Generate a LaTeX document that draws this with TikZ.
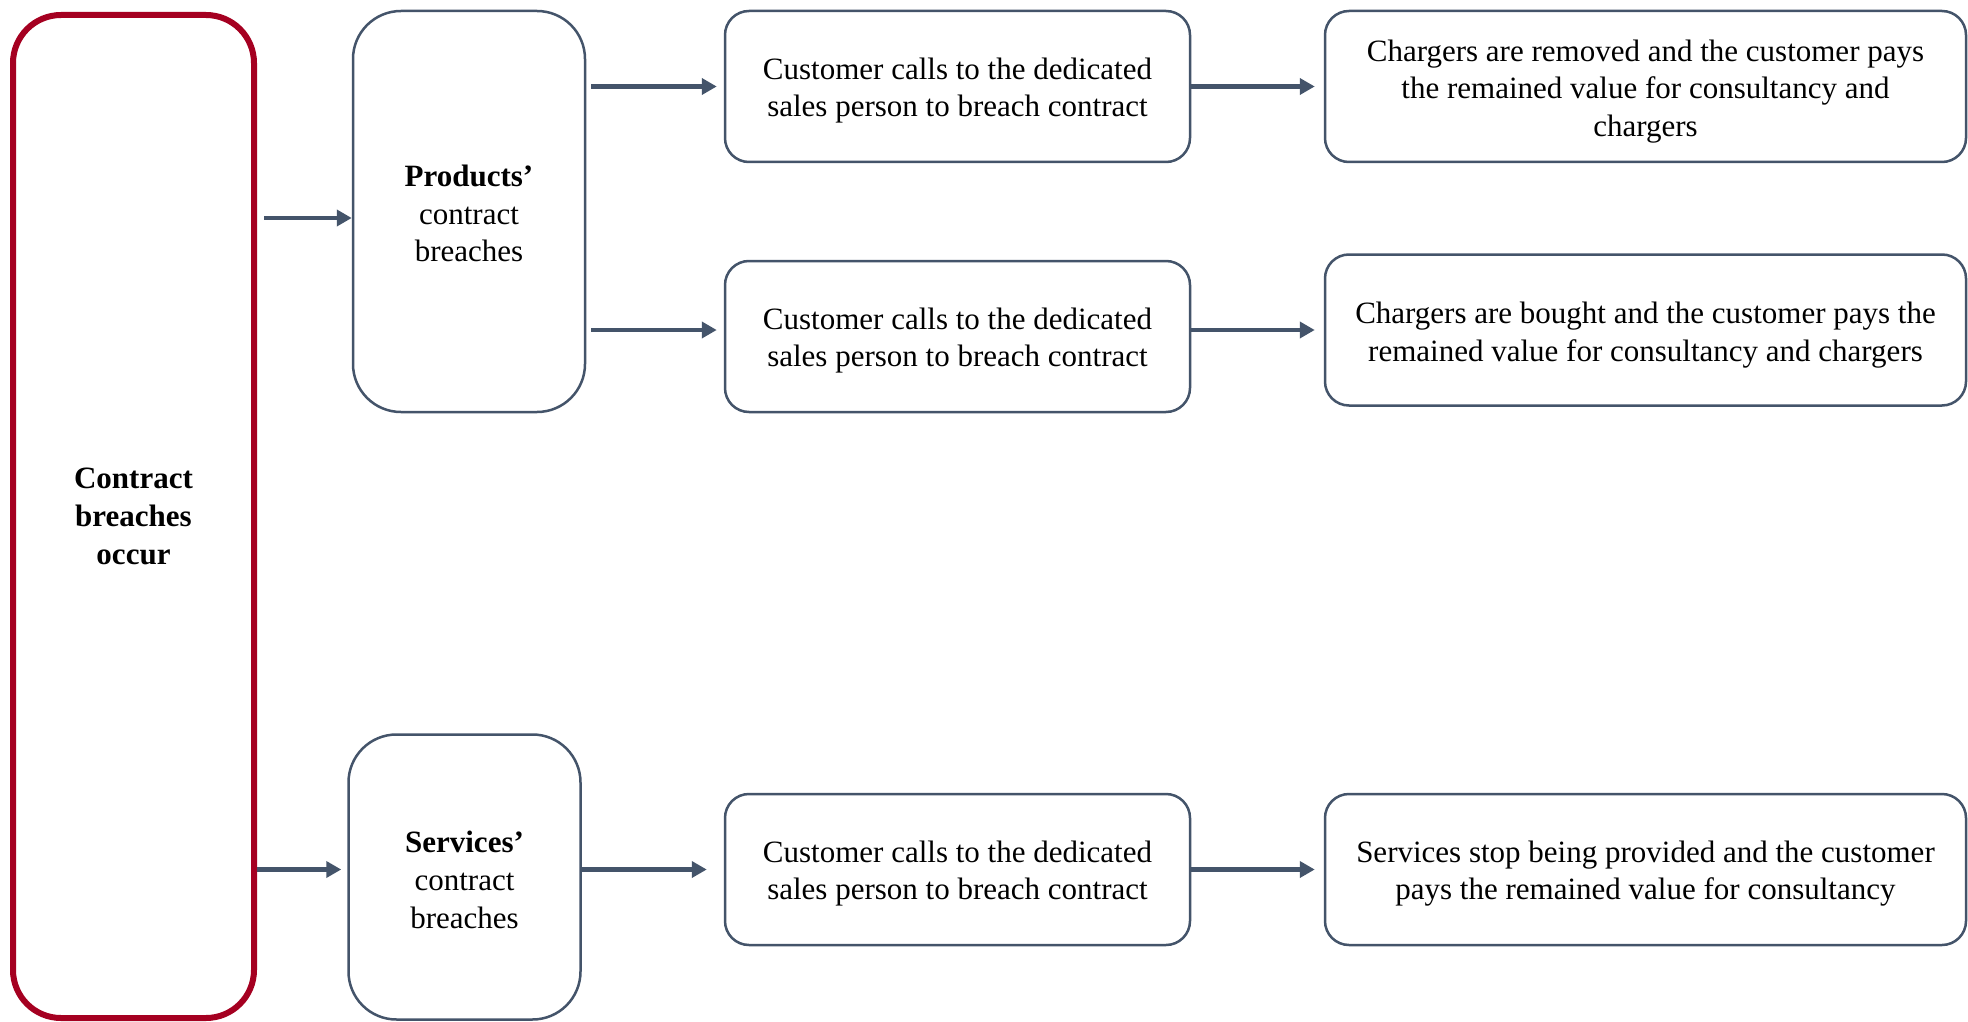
\documentclass[tikz,border=0pt]{standalone}
\usepackage{fontspec}
\setmainfont{Liberation Serif}
\usetikzlibrary{arrows.meta}
\definecolor{slate}{HTML}{44546A}
\definecolor{dred}{HTML}{A50021}
\begin{document}
\begin{tikzpicture}[x=1pt,y=-1pt,
  txt/.style={align=center, inner sep=0pt, font=\fontsize{31}{37.7}\selectfont},
  box/.style={draw=slate, line width=2.5pt, rounded corners=24pt, inner sep=0pt},
  tall/.style={box, rounded corners=48pt, minimum width=232pt},
  wide/.style={box, minimum height=151pt},
  arr/.style={draw=slate, line width=4.2pt, -{Triangle[length=15pt,width=16pt]}}]
\useasboundingbox (0,0) rectangle (1968,1022);
\fill[white] (0,0) rectangle (1968,1022);

\node[txt, draw=dred, line width=6pt, rounded corners=48pt, minimum width=241pt, minimum height=1003pt] (red) at (133.5,516.5)
  {\bfseries Contract\\\bfseries breaches\\\bfseries occur};

\node[tall, minimum height=401pt] (prod) at (469,211.5) {};
\node[txt, yshift=-2pt] (prodt) at (prod) {\bfseries Products’\\contract\\breaches};
\node[tall, minimum height=285pt] (serv) at (464.5,877) {};
\node[txt, yshift=-3pt] (servt) at (serv) {\bfseries Services’\\contract\\breaches};

\node[wide, minimum width=465pt] (c1) at (957.5,86.5) {};
\node[txt, yshift=-4pt] (c1t) at (c1) {Customer calls to the dedicated\\sales person to breach contract};
\node[wide, minimum width=465pt] (c2) at (957.5,336.5) {};
\node[txt, yshift=-4pt] (c2t) at (c2) {Customer calls to the dedicated\\sales person to breach contract};
\node[wide, minimum width=465pt] (c3) at (957.5,869.5) {};
\node[txt, yshift=-4pt] (c3t) at (c3) {Customer calls to the dedicated\\sales person to breach contract};

\node[wide, minimum width=641pt] (r1) at (1645.5,86.5) {};
\node[txt, yshift=-5pt] (r1t) at (r1) {Chargers are removed and the customer pays\\the remained value for consultancy and\\chargers};
\node[wide, minimum width=641pt] (r2) at (1645.5,330) {};
\node[txt, yshift=-5pt] (r2t) at (r2) {Chargers are bought  and the customer pays the\\remained value for consultancy and chargers};
\node[wide, minimum width=641pt] (r3) at (1645.5,869.5) {};
\node[txt, yshift=-4pt] (r3t) at (r3) {Services stop being provided and the customer\\pays the remained value for consultancy};

\coordinate (a0) at (0,218);
\draw[arr, shorten <=7pt] (red.east |- a0) -- (prod.west |- a0);
\draw[arr, shorten >=6pt] (red.east |- c3) -- (serv.west |- c3);
\draw[arr, shorten <=5pt, shorten >=7pt] (prod.east |- c1) -- (c1);
\draw[arr, shorten <=5pt, shorten >=7pt] (prod.east |- r2) -- (c2.west |- r2);
\draw[arr, shorten >=17pt] (serv.east |- c3) -- (c3);
\draw[arr, shorten >=9pt] (c1) -- (r1);
\draw[arr, shorten >=9pt] (c2.east |- r2) -- (r2);
\draw[arr, shorten >=9pt] (c3) -- (r3);
\end{tikzpicture}
\end{document}
